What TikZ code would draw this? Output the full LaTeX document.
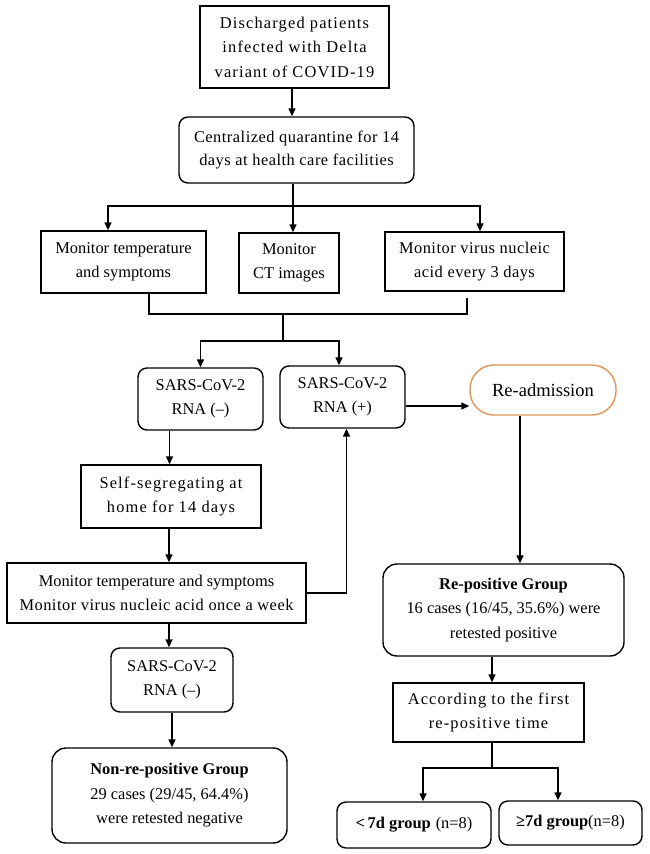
\documentclass[tikz,border=0pt]{standalone}
\usepackage{fontspec}
\setmainfont{Liberation Serif}
\newfontfamily\widefont[LetterSpace=7]{Liberation Serif}
\newfontfamily\semiwidefont[LetterSpace=3]{Liberation Serif}
\usetikzlibrary{arrows.meta}
\definecolor{orng}{RGB}{224,148,88}
\begin{document}
\begin{tikzpicture}[x=1pt,y=-1pt,
  box/.style={draw, line width=1.4pt, align=center, inner sep=0pt,
    font=\fontsize{16.4}{24.5}\selectfont},
  widebox/.style={box, font=\fontsize{16.4}{24.5}\selectfont\widefont},
  semibox/.style={box, font=\fontsize{16.4}{24.5}\selectfont\semiwidefont},
  rnd/.style={rounded corners=9pt},
  bigrnd/.style={rounded corners=14pt},
  conn/.style={line width=1.4pt},
  arr/.style={conn,-{Triangle[length=8pt,width=7pt]}}]
\useasboundingbox (0,0) rectangle (649,854);

% nodes
\node[widebox, minimum width=189pt, minimum height=82pt] (n1) at (294.5,47)
  {Discharged patients\\infected with Delta\\variant of COVID-19};
\node[semibox, rnd, minimum width=235pt, minimum height=66pt,
  font=\fontsize{16.4}{23.5}\selectfont\semiwidefont] (n2) at (296.5,150)
  {Centralized quarantine for 14\\days at health care facilities};
\node[box, minimum width=165pt, minimum height=62pt] (n3a) at (123.5,262)
  {Monitor temperature\\and symptoms};
\node[box, minimum width=100pt, minimum height=60pt] (n3b) at (289,263)
  {Monitor\\CT images};
\node[semibox, minimum width=179pt, minimum height=59pt] (n3c) at (474.5,261.5)
  {Monitor virus nucleic\\acid every 3 days};
\node[box, rnd, minimum width=125pt, minimum height=62pt] (sneg1) at (200.5,399)
  {SARS-CoV-2\\RNA (–)};
\node[box, rnd, minimum width=125pt, minimum height=62pt] (spos) at (342.5,397)
  {SARS-CoV-2\\RNA (+)};
\node[box, draw=orng, rounded corners=24pt, minimum width=146pt, minimum height=50pt,
  font=\fontsize{18.5}{22}\selectfont] (readm) at (543,390) {Re-admission};
\node[widebox, minimum width=180pt, minimum height=63pt] (self) at (171,496.5)
  {Self-segregating at\\home for 14 days};
\node[box, minimum width=299pt, minimum height=60pt] (mon2) at (156.5,593)
  {Monitor temperature and symptoms\\{\semiwidefont Monitor virus nucleic acid once a week}};
\node[box, rnd, minimum width=122pt, minimum height=64pt] (sneg2) at (172,680)
  {SARS-CoV-2\\RNA (–)};
\node[box, bigrnd, minimum width=235pt, minimum height=95pt] (nonre) at (169.5,795.5)
  {\textbf{Non-re-positive Group}\\29 cases (29/45, 64.4\%)\\were retested negative};
\node[box, bigrnd, minimum width=241pt, minimum height=92pt] (repos) at (503.5,610)
  {\textbf{Re-positive Group}\\16 cases (16/45, 35.6\%) were\\retested positive};
\node[widebox, minimum width=191pt, minimum height=59pt] (accord) at (488.5,712.5)
  {According to the first\\re-positive time};
\node[box, rnd, minimum width=154pt, minimum height=46pt] (lt7) at (414,825)
  {\textbf{<\,7d group}\hspace{5pt}(n=8)};
\node[box, rnd, minimum width=143pt, minimum height=44pt] (ge7) at (570.5,823)
  {\textbf{≥7d group}(n=8)};

% junction coordinates
\coordinate (j1) at (293,206);
\coordinate (j2) at (283,314);
\coordinate (j3) at (283,341);
\coordinate (j4) at (492,768);

% connectors
\draw[arr] ([xshift=-2.5pt]n1.south) -- ([xshift=-2.5pt]n1.south |- n2.north);
\draw[conn] (j1 |- n2.south) -- (j1);
\draw[arr] (j1) -| ([xshift=-15.5pt]n3a.north);
\draw[arr] (j1) -| ([xshift=5.5pt]n3c.north);
\draw[arr] (j1) -- (j1 |- n3b.north);

\draw[conn] ([xshift=25.5pt]n3a.south) |- (j2) -| ([xshift=-7.5pt,yshift=-6pt]n3c.south);
\draw[conn] (j2) -- (j3);
\draw[arr] (j3) -| (sneg1.north);
\draw[arr] (j3) -| ([xshift=-3.5pt]spos.north);

\draw[arr] ([yshift=-9pt]spos.east) -- ([yshift=-9pt]spos.east -| readm.west);
\draw[arr] ([xshift=-31pt]sneg1.south) -- ([xshift=-31pt]sneg1.south |- self.north);
\draw[arr] ([xshift=-2pt]self.south) -- ([xshift=-2pt]self.south |- mon2.north);
\draw[arr] (mon2.east) -| ([xshift=4pt]spos.south);
\draw[arr] ([xshift=-3pt]sneg2.north |- mon2.south) -- ([xshift=-3pt]sneg2.north);
\draw[arr] (sneg2.south) -- (sneg2.south |- nonre.north);

\draw[arr] ([xshift=-23pt]readm.south) -- ([xshift=-23pt]readm.south |- repos.north);
\draw[arr] ([xshift=-11.5pt]repos.south) -- ([xshift=-11.5pt]repos.south |- accord.north);
\draw[conn] (j4 |- accord.south) -- (j4);
\draw[arr] (j4) -| ([xshift=9pt]lt7.north);
\draw[arr] (j4) -| ([xshift=-12.5pt]ge7.north);
\end{tikzpicture}
\end{document}
